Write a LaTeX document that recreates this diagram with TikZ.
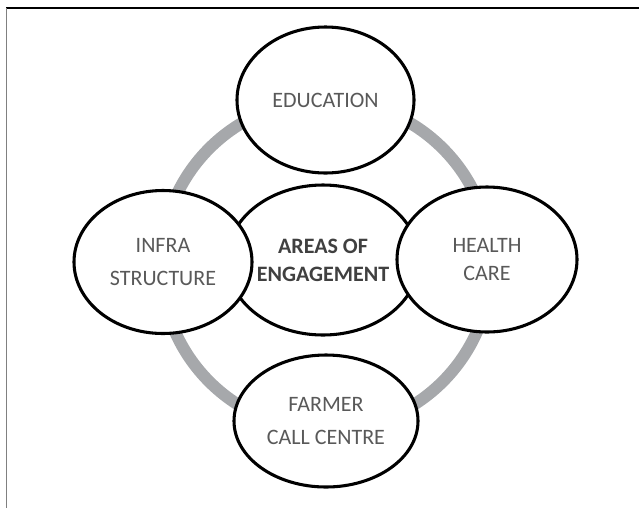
\documentclass[tikz,border=0pt]{standalone}
\usepackage{fontspec}
\setmainfont{Carlito}
\usetikzlibrary{shapes.geometric}
\definecolor{ringgray}{RGB}{166,168,171}
\definecolor{txtgray}{RGB}{89,89,89}
\definecolor{boldgray}{RGB}{64,64,64}
\tikzset{
  area/.style={ellipse, draw=black, line width=2.3pt, fill=white, align=center,
    text=txtgray, font=\fontsize{16.5}{24.5}\selectfont, inner sep=0pt},
  tightarea/.style={area, font=\fontsize{16.5}{20.5}\selectfont},
  hub/.style={area, text=boldgray, font=\bfseries\fontsize{16.5}{21}\selectfont},
}
\begin{document}
\begin{tikzpicture}[x=0.75pt,y=-0.75pt]
\useasboundingbox (0,0) rectangle (639,508);
% frame
\draw[black, line width=0.9pt] (6,8) -- (639,8);
\draw[gray, line width=0.9pt] (6.5,8) -- (6.5,508);
% ring
\coordinate (ringc) at (326,265);
\draw[ringgray, line width=9pt] (ringc) circle[radius=123.75pt];
% center
\node[hub, minimum width=192*0.75pt, minimum height=150*0.75pt] (hubnode) at (323,260) {AREAS OF\\ENGAGEMENT};
% outer
\node[area, minimum width=177*0.75pt, minimum height=146*0.75pt] (edu) at (325.5,100) {EDUCATION};
\node[area, minimum width=178*0.75pt, minimum height=143*0.75pt] (infra) at (163,262) {INFRA\\STRUCTURE};
\node[tightarea, minimum width=180*0.75pt, minimum height=145*0.75pt] (health) at (487,259.5) {HEALTH\\CARE};
\node[area, minimum width=184*0.75pt, minimum height=132*0.75pt] (farmer) at (326,421) {FARMER\\CALL CENTRE};
\end{tikzpicture}
\end{document}
